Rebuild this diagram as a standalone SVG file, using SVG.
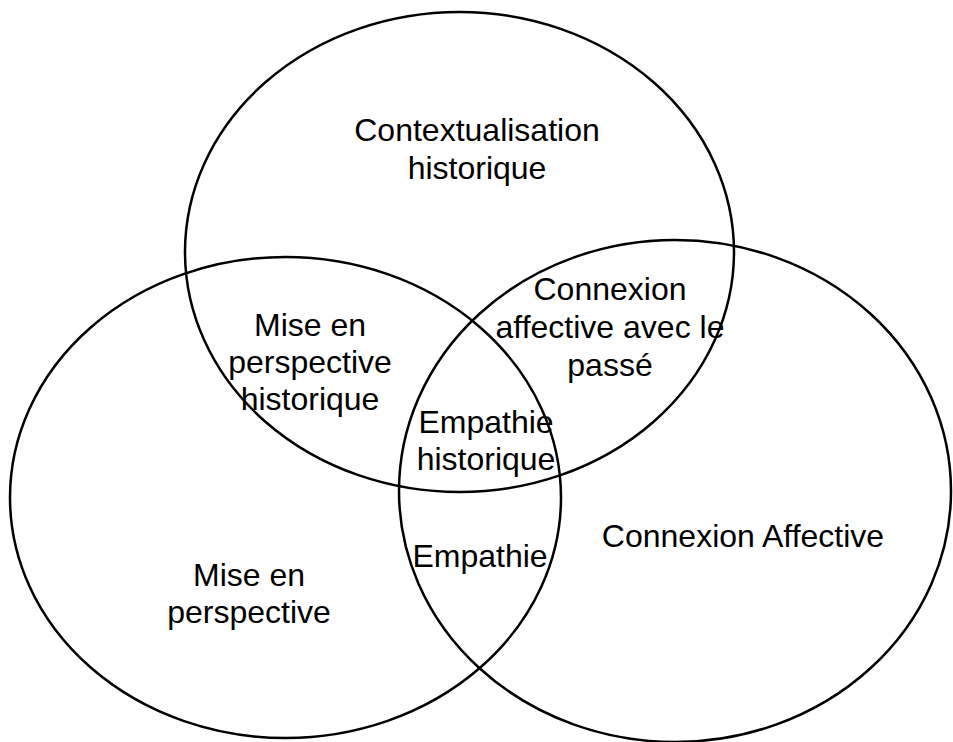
<svg xmlns="http://www.w3.org/2000/svg" width="953" height="742" viewBox="0 0 953 742">
<style>
.c{fill:none;stroke:#000;stroke-width:2.5}
text{font-family:"Liberation Sans",Arial,sans-serif;font-size:32px;fill:#000;text-anchor:middle}
</style>
<rect width="953" height="742" fill="#fff"/>
<g id="top"><ellipse class="c" cx="459.5" cy="252" rx="274.5" ry="240"/></g>
<g id="left"><ellipse class="c" cx="285.5" cy="497.5" rx="275.5" ry="240.5"/></g>
<g id="right"><ellipse class="c" cx="675" cy="491" rx="276" ry="251"/></g>
<g id="labels">
<text x="477" y="141">Contextualisation</text>
<text x="477" y="179">historique</text>
<text x="310" y="336">Mise en</text>
<text x="310" y="373">perspective</text>
<text x="310" y="410">historique</text>
<text x="610" y="300">Connexion</text>
<text x="610" y="338">affective avec le</text>
<text x="610" y="376">passé</text>
<text x="486" y="433">Empathie</text>
<text x="486" y="470">historique</text>
<text x="480" y="567">Empathie</text>
<text x="249" y="586">Mise en</text>
<text x="249" y="623">perspective</text>
<text x="743" y="547">Connexion Affective</text>
</g>
</svg>
